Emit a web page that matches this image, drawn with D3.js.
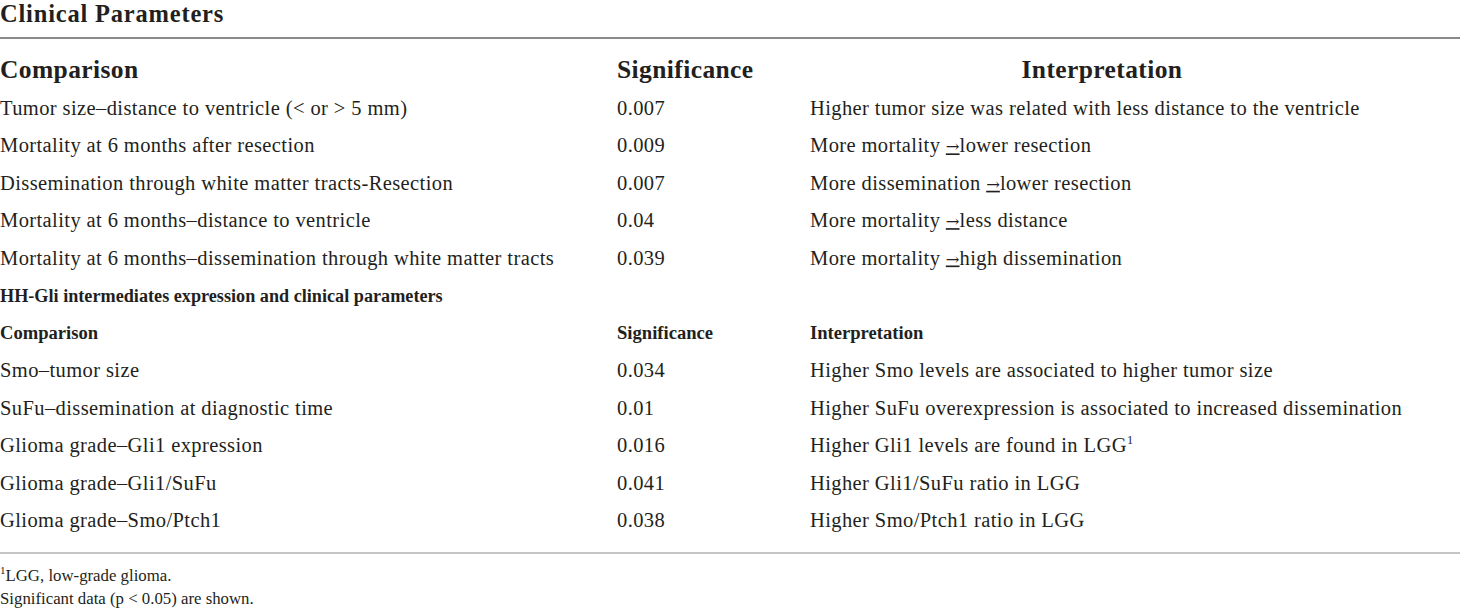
<!DOCTYPE html>
<html>
<head>
<meta charset="utf-8">
<script src="https://cdn.jsdelivr.net/npm/d3@7"></script>
<style>
  body { margin: 0; background: #fff; }
  svg text { font-family: "Liberation Serif", "DejaVu Serif", serif; fill: #231f20; }
</style>
</head>
<body>
<script>
const title = 'Clinical Parameters'
const headers = ['Comparison', 'Significance', 'Interpretation']
const subTitle = 'HH-Gli intermediates expression and clinical parameters'

const comparisons1 = [
  'Tumor size\u2013distance to ventricle (< or > 5 mm)',
  'Mortality at 6 months after resection',
  'Dissemination through white matter tracts-Resection',
  'Mortality at 6 months\u2013distance to ventricle',
  'Mortality at 6 months\u2013dissemination through white matter tracts'
]
const significance1 = ['0.007', '0.009', '0.007', '0.04', '0.039']
// [before arrow, after arrow] ; null after = no arrow
const interpretation1 = [
  ['Higher tumor size was related with less distance to the ventricle', null],
  ['More mortality ', 'lower resection'],
  ['More dissemination ', 'lower resection'],
  ['More mortality ', 'less distance'],
  ['More mortality ', 'high dissemination']
]

const comparisons2 = [
  'Smo\u2013tumor size',
  'SuFu\u2013dissemination at diagnostic time',
  'Glioma grade\u2013Gli1 expression',
  'Glioma grade\u2013Gli1/SuFu',
  'Glioma grade\u2013Smo/Ptch1'
]
const significance2 = ['0.034', '0.01', '0.016', '0.041', '0.038']
const interpretation2 = [
  'Higher Smo levels are associated to higher tumor size',
  'Higher SuFu overexpression is associated to increased dissemination',
  'Higher Gli1 levels are found in LGG',
  'Higher Gli1/SuFu ratio in LGG',
  'Higher Smo/Ptch1 ratio in LGG'
]
const supMarks2 = ['', '', '1', '', '']

const footnotes = [['1', 'LGG, low-grade glioma.'], ['', 'Significant data (p < 0.05) are shown.']]

const W = 1460, H = 613
const svg = d3.select('body').append('svg')
  .attr('width', W)
  .attr('height', H)

const col = d3.scaleOrdinal()
  .domain(headers)
  .range([0, 617, 810])

const y1 = d3.scaleLinear().domain([0, 4]).range([115, 264.5])
const y2 = d3.scaleLinear().domain([0, 4]).range([377, 527])

const FS = 20.5
const LS = 0.4

svg.append('text')
  .text(title)
  .attr('x', 0)
  .attr('y', 22)
  .attr('font-weight', 'bold')
  .attr('font-size', 24.5)
  .attr('letter-spacing', 0.8)

svg.append('line')
  .attr('x1', 0).attr('x2', W)
  .attr('y1', 38).attr('y2', 38)
  .attr('stroke', '#8a8a8a')
  .attr('stroke-width', 2)

// header row 1
svg.selectAll('text.h1')
  .data(headers)
  .enter()
  .append('text')
  .attr('class', 'h1')
  .text(d => d)
  .attr('x', (d, i) => i == 2 ? 1102 : col(d))
  .attr('text-anchor', (d, i) => i == 2 ? 'middle' : 'start')
  .attr('y', 78)
  .attr('font-weight', 'bold')
  .attr('font-size', 25.5)
  .attr('letter-spacing', 0.4)

function rows(cls, comps, sigs, ys) {
  svg.selectAll('text.c' + cls)
    .data(comps)
    .enter()
    .append('text')
    .attr('class', 'c' + cls)
    .text(d => d)
    .attr('x', col(headers[0]))
    .attr('y', (d, i) => ys(i))
    .attr('font-size', FS)
    .attr('letter-spacing', LS)

  svg.selectAll('text.s' + cls)
    .data(sigs)
    .enter()
    .append('text')
    .attr('class', 's' + cls)
    .text(d => d)
    .attr('x', col(headers[1]))
    .attr('y', (d, i) => ys(i))
    .attr('font-size', FS)
    .attr('letter-spacing', LS)
}

rows('1', comparisons1, significance1, y1)
rows('2', comparisons2, significance2, y2)

const interp1 = svg.selectAll('text.i1')
  .data(interpretation1)
  .enter()
  .append('text')
  .attr('class', 'i1')
  .attr('x', col(headers[2]))
  .attr('y', (d, i) => y1(i))
  .attr('font-size', FS)
  .attr('letter-spacing', LS)

interp1.append('tspan').text(d => d[0])
interp1.filter(d => d[1] != null).append('tspan')
  .text('\u2192')
  .attr('text-decoration', 'underline')
  .attr('letter-spacing', 0)
  .style('font-family', '"DejaVu Serif", serif')
  .attr('font-size', FS * 0.8)
interp1.filter(d => d[1] != null).append('tspan').text(d => d[1])

const interp2 = svg.selectAll('text.i2')
  .data(interpretation2)
  .enter()
  .append('text')
  .attr('class', 'i2')
  .attr('x', col(headers[2]))
  .attr('y', (d, i) => y2(i))
  .attr('font-size', FS)
  .attr('letter-spacing', LS)
interp2.append('tspan').text(d => d)
interp2.append('tspan')
  .text((d, i) => supMarks2[i])
  .attr('font-size', FS * 0.6)
  .attr('dy', -8)

// sub section
svg.append('text')
  .text(subTitle)
  .attr('x', 0)
  .attr('y', 302)
  .attr('font-weight', 'bold')
  .attr('font-size', 18.2)

svg.selectAll('text.h2')
  .data(headers)
  .enter()
  .append('text')
  .attr('class', 'h2')
  .text(d => d)
  .attr('x', d => col(d))
  .attr('y', 339)
  .attr('font-weight', 'bold')
  .attr('font-size', 18.6)

svg.append('line')
  .attr('x1', 0).attr('x2', W)
  .attr('y1', 553).attr('y2', 553)
  .attr('stroke', '#b0b0b0')
  .attr('stroke-width', 1.5)

const fn = svg.selectAll('text.fn')
  .data(footnotes)
  .enter()
  .append('text')
  .attr('class', 'fn')
  .attr('x', 0)
  .attr('y', (d, i) => 581 + i * 23)
  .attr('font-size', 16.8)
fn.append('tspan')
  .text(d => d[0])
  .attr('font-size', 11)
  .attr('dy', -7)
fn.append('tspan')
  .text(d => d[1])
  .attr('dy', d => d[0] ? 7 : 0)
</script>
</body>
</html>
